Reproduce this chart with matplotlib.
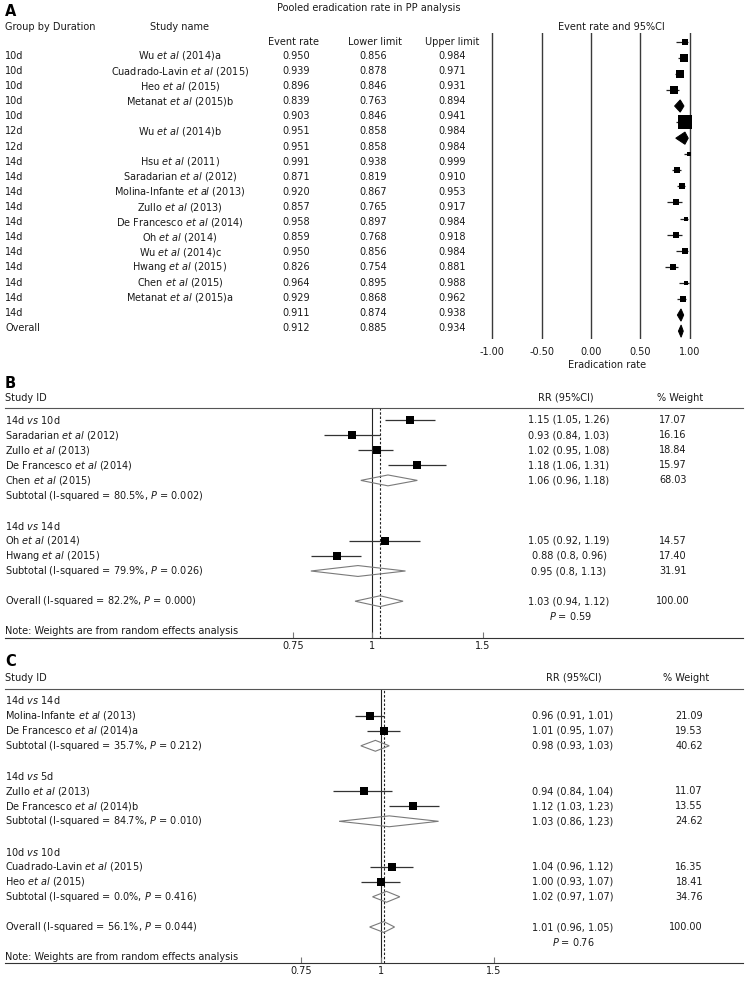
import numpy as np
import matplotlib
matplotlib.use("Agg")
import matplotlib.pyplot as plt
from matplotlib.patches import Polygon
from matplotlib.ticker import NullLocator

plt.rcParams['font.family'] = ['DejaVu Sans']
plt.rcParams['mathtext.fontset'] = 'custom'
plt.rcParams['mathtext.rm'] = 'DejaVu Sans'
plt.rcParams['mathtext.it'] = 'DejaVu Sans:italic'
plt.rcParams['axes.unicode_minus'] = False

# ---------------- DATA ----------------
# Panel A
a_group = ["10d", "10d", "10d", "10d", "10d", "12d", "12d", "14d", "14d", "14d",
           "14d", "14d", "14d", "14d", "14d", "14d", "14d", "14d", "Overall"]
a_study = ["Wu et al (2014)a", "Cuadrado-Lavin et al (2015)", "Heo et al (2015)",
           "Metanat et al (2015)b", "", "Wu et al (2014)b", "", "Hsu et al (2011)",
           "Saradarian et al (2012)", "Molina-Infante et al (2013)", "Zullo et al (2013)",
           "De Francesco et al (2014)", "Oh et al (2014)", "Wu et al (2014)c",
           "Hwang et al (2015)", "Chen et al (2015)", "Metanat et al (2015)a", "", ""]
a_rate = ["0.950", "0.939", "0.896", "0.839", "0.903", "0.951", "0.951", "0.991", "0.871",
          "0.920", "0.857", "0.958", "0.859", "0.950", "0.826", "0.964", "0.929", "0.911", "0.912"]
a_lower = ["0.856", "0.878", "0.846", "0.763", "0.846", "0.858", "0.858", "0.938", "0.819",
           "0.867", "0.765", "0.897", "0.768", "0.856", "0.754", "0.895", "0.868", "0.874", "0.885"]
a_upper = ["0.984", "0.971", "0.931", "0.894", "0.941", "0.984", "0.984", "0.999", "0.910",
           "0.953", "0.917", "0.984", "0.918", "0.984", "0.881", "0.988", "0.962", "0.938", "0.934"]
# relative study weights; nan = pooled estimate (diamond)
a_weight = [22, 36, 49, 45, np.nan, 150, np.nan, 9, 28, 22, 32, 14, 32, 18, 25, 16, 18, np.nan, np.nan]
a_ticks = [-1.0, -0.5, 0.0, 0.5, 1.0]
a_ticklabels = ["-1.00", "-0.50", "0.00", "0.50", "1.00"]

# Panel B
b_labels = ["14d vs 10d", "Saradarian et al (2012)", "Zullo et al (2013)",
            "De Francesco et al (2014)", "Chen et al (2015)",
            "Subtotal (I-squared = 80.5%, P = 0.002)", "",
            "14d vs 14d", "Oh et al (2014)", "Hwang et al (2015)",
            "Subtotal (I-squared = 79.9%, P = 0.026)", "",
            "Overall (I-squared = 82.2%, P = 0.000)"]
b_rr = ["1.15", "0.93", "1.02", "1.18", "1.06", "1.05", "0.88", "0.95", "1.03"]
b_lo = ["1.05", "0.84", "0.95", "1.06", "0.96", "0.92", "0.8", "0.8", "0.94"]
b_hi = ["1.26", "1.03", "1.08", "1.31", "1.18", "1.19", "0.96", "1.13", "1.12"]
b_wt = ["17.07", "16.16", "18.84", "15.97", "68.03", "14.57", "17.40", "31.91", "100.00"]
b_pooled = [False, False, False, False, True, False, False, True, True]
b_p = "0.59"

# Panel C
c_labels = ["14d vs 14d", "Molina-Infante et al (2013)", "De Francesco et al (2014)a",
            "Subtotal (I-squared = 35.7%, P = 0.212)", "",
            "14d vs 5d", "Zullo et al (2013)", "De Francesco et al (2014)b",
            "Subtotal (I-squared = 84.7%, P = 0.010)", "",
            "10d vs 10d", "Cuadrado-Lavin et al (2015)", "Heo et al (2015)",
            "Subtotal (I-squared = 0.0%, P = 0.416)", "",
            "Overall (I-squared = 56.1%, P = 0.044)"]
c_rr = ["0.96", "1.01", "0.98", "0.94", "1.12", "1.03", "1.04", "1.00", "1.02", "1.01"]
c_lo = ["0.91", "0.95", "0.93", "0.84", "1.03", "0.86", "0.96", "0.93", "0.97", "0.96"]
c_hi = ["1.01", "1.07", "1.03", "1.04", "1.23", "1.23", "1.12", "1.07", "1.07", "1.05"]
c_wt = ["21.09", "19.53", "40.62", "11.07", "13.55", "24.62", "16.35", "18.41", "34.76", "100.00"]
c_pooled = [False, False, True, False, False, True, False, False, True, True]
c_p = "0.76"

rr_ticks = [0.75, 1, 1.5]
rr_ticklabels = ["0.75", "1", "1.5"]

# ---------------- LAYOUT ----------------
W, H = 752, 982
fig = plt.figure(figsize=(W / 100, H / 100), dpi=100)
FS = 7.0
TXT = '#1a1a1a'


def fx(x):
    return x / W


def fy(y):
    return 1 - y / H


def fmt(s):
    s = s.replace("et al", r"$\mathit{et\ al}$")
    s = s.replace(" vs ", r" $\mathit{vs}$ ")
    s = s.replace("P =", r"$\mathit{P}$ =")
    return s


def ftext(x, y, s, ha='left', **kw):
    kw.setdefault('fontsize', FS)
    kw.setdefault('color', TXT)
    fig.text(fx(x), fy(y), fmt(s), ha=ha, va='center', **kw)


# ================= PANEL A =================
ftext(5, 11, "A", fontweight='bold', fontsize=10.5, color='black')
ftext(369, 8, "Pooled eradication rate in PP analysis", ha='center')
ftext(5, 27, "Group by Duration")
ftext(180, 27, "Study name", ha='center')
ftext(611, 27, "Event rate and 95%CI", ha='center')
ftext(294, 42, "Event rate", ha='center')
ftext(375, 42, "Lower limit", ha='center')
ftext(452, 42, "Upper limit", ha='center')
for i in range(len(a_group)):
    y = 56 + 15.1 * i
    ftext(5, y, a_group[i])
    ftext(180, y, a_study[i], ha='center')
    ftext(296, y, a_rate[i], ha='center')
    ftext(373, y, a_lower[i], ha='center')
    ftext(452, y, a_upper[i], ha='center')

KA = 98.8  # px per unit
X0A = 591.0
axA = fig.add_axes([fx(470), fy(339), fx(745) - fx(470), (339 - 33) / H])
axA.set_xlim((470 - X0A) / KA, (745 - X0A) / KA)
axA.set_ylim(18.49, -0.541)
for s in axA.spines.values():
    s.set_visible(False)
axA.set_yticks([])
axA.set_xticks(a_ticks)
axA.set_xticklabels(a_ticklabels)
axA.tick_params(axis='x', length=0, pad=5.5, labelsize=FS, labelcolor=TXT)
axA.set_xlabel("Eradication rate", fontsize=FS, color=TXT, labelpad=2.5)
for v in a_ticks:
    axA.axvline(v, color='#3a3a3a', lw=1.0, zorder=1)

rows = np.arange(len(a_rate))
est = np.array([float(v) for v in a_rate])
lo = np.array([float(v) for v in a_lower])
hi = np.array([float(v) for v in a_upper])
wts = np.array(a_weight, dtype=float)
for r in rows:
    if np.isnan(wts[r]):
        h = 0.38
        axA.add_patch(Polygon([[lo[r], r], [est[r], r - h], [hi[r], r], [est[r], r + h]],
                              closed=True, facecolor='black', edgecolor='black', lw=0.7, zorder=3))
    else:
        axA.hlines(r, lo[r], hi[r], color='#222222', lw=0.9, zorder=2)
        axA.plot([est[r]], [r], marker='s', color='black', ms=np.sqrt(wts[r]) * 0.72 * 1.2,
                 mew=0, zorder=3)


# ================= Forest helper for B and C =================
def forest(ax, rr, lo_s, hi_s, wt, pooled, vrows, overall):
    e = np.array([float(v) for v in rr])
    l = np.array([float(v) for v in lo_s])
    u = np.array([float(v) for v in hi_s])
    w = np.array([float(v) for v in wt])
    ax.axvline(1, color='#222222', lw=0.8, zorder=1)
    ax.axvline(overall, color='#222222', lw=0.8, ls=(0, (2.2, 1.6)), zorder=1)
    for i, r in enumerate(vrows):
        if pooled[i]:
            h = 0.36
            ax.add_patch(Polygon([[l[i], r], [e[i], r - h], [u[i], r], [e[i], r + h]],
                                 closed=True, facecolor='none', edgecolor='#7a7a7a',
                                 lw=0.8, zorder=3))
        else:
            ax.hlines(r, l[i], u[i], color='#333333', lw=0.9, zorder=2)
            ax.plot([e[i]], [r], marker='s', color='black',
                    ms=(3.0 + 1.25 * np.sqrt(w[i])) * 0.72,
                    mew=0, zorder=3)


def style_forest(ax, k, x0, top, bottom, y0, dy):
    ax.set_xscale('log')
    ax.set_xlim(np.exp((5 - x0) / k), np.exp((743 - x0) / k))
    ax.set_ylim((bottom - y0) / dy, (top - y0) / dy)
    ax.spines['left'].set_visible(False)
    ax.spines['right'].set_visible(False)
    ax.spines['top'].set_color('#555555')
    ax.spines['bottom'].set_color('#333333')
    ax.set_yticks([])
    ax.set_xticks(rr_ticks)
    ax.set_xticklabels(rr_ticklabels)
    ax.xaxis.set_minor_locator(NullLocator())
    ax.tick_params(axis='x', direction='in', length=4, width=0.8, color='#777777',
                   pad=2.5, labelsize=FS, labelcolor=TXT)


# ================= PANEL B =================
Y0B, DYB = 420.0, 15.1
KB, X0B = 274.0, 372.0
ftext(5, 383, "B", fontweight='bold', fontsize=10.5, color='black')
ftext(5, 398, "Study ID")
ftext(566, 398, "RR (95%CI)", ha='center')
ftext(680, 398, "% Weight", ha='center')
for i, s in enumerate(b_labels):
    if s:
        ftext(5, Y0B + DYB * i, s)
b_rows = [0, 1, 2, 3, 4, 8, 9, 10, 12]
for i, r in enumerate(b_rows):
    y = Y0B + DYB * r
    ftext(569, y, f"{b_rr[i]} ({b_lo[i]}, {b_hi[i]})", ha='center')
    ftext(673, y, b_wt[i], ha='center')
ftext(570, Y0B + DYB * 13, f"P = {b_p}", ha='center')
ftext(5, Y0B + DYB * 14, "Note: Weights are from random effects analysis")

axB = fig.add_axes([fx(5), fy(638), fx(743) - fx(5), (638 - 408) / H])
style_forest(axB, KB, X0B, 408, 638, Y0B, DYB)
forest(axB, b_rr, b_lo, b_hi, b_wt, b_pooled, b_rows, float(b_rr[-1]))

# ================= PANEL C =================
Y0C, DYC = 700.5, 15.1
KC, X0C = 278.0, 381.0
ftext(5, 662, "C", fontweight='bold', fontsize=10.5, color='black')
ftext(5, 678, "Study ID")
ftext(574, 678, "RR (95%CI)", ha='center')
ftext(686, 678, "% Weight", ha='center')
for i, s in enumerate(c_labels):
    if s:
        ftext(5, Y0C + DYC * i, s)
c_rows = [1, 2, 3, 6, 7, 8, 11, 12, 13, 15]
for i, r in enumerate(c_rows):
    y = Y0C + DYC * r
    ftext(573, y, f"{c_rr[i]} ({c_lo[i]}, {c_hi[i]})", ha='center')
    ftext(703, y, c_wt[i], ha='right')
ftext(573, Y0C + DYC * 16, f"P = {c_p}", ha='center')
ftext(5, Y0C + DYC * 17, "Note: Weights are from random effects analysis")

axC = fig.add_axes([fx(5), fy(963), fx(743) - fx(5), (963 - 689) / H])
style_forest(axC, KC, X0C, 689, 963, Y0C, DYC)
forest(axC, c_rr, c_lo, c_hi, c_wt, c_pooled, c_rows, float(c_rr[-1]))

fig.savefig("out.png", dpi=100, facecolor='white')
